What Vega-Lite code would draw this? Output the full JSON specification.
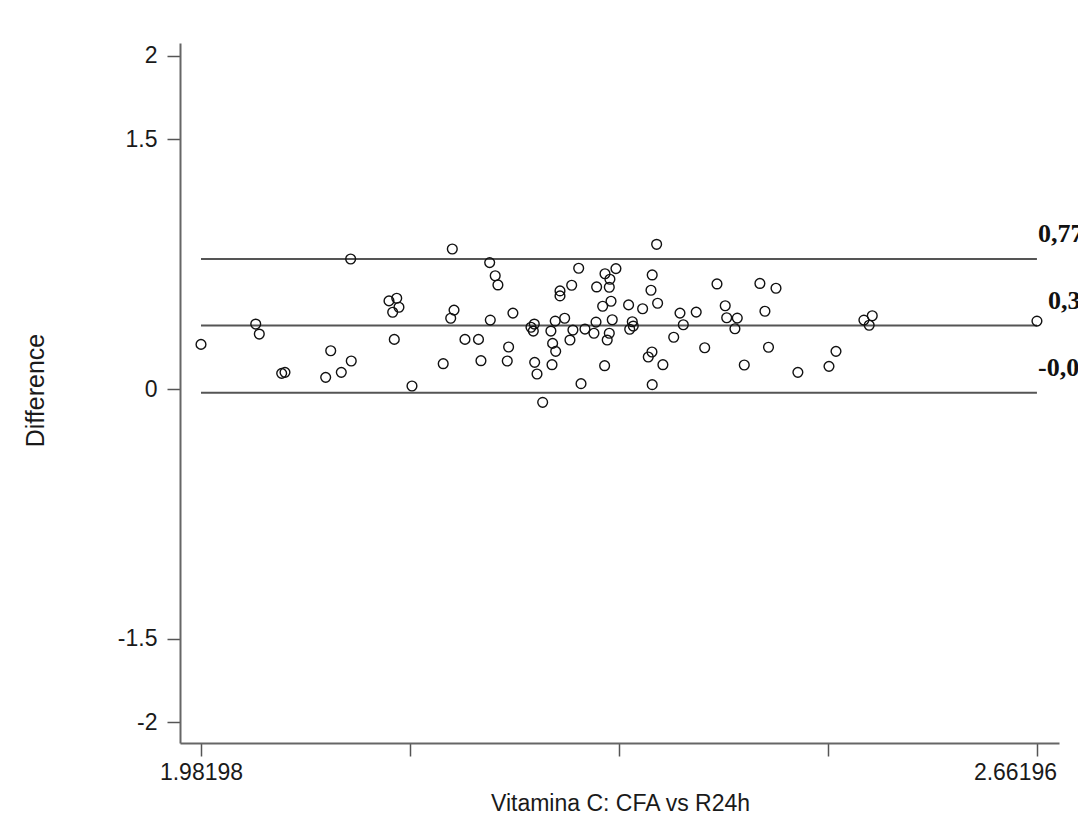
{
  "$schema": "https://vega.github.io/schema/vega-lite/v6.json",
  "width": 879,
  "height": 700,
  "autosize": {"type": "none"},
  "padding": {"left": 180, "top": 43, "right": 19, "bottom": 83},
  "background": "white",
  "config": {"view": {"stroke": null}},
  "datasets": {
    "points": [
      {"mean": 2.1037, "diff": 0.781}, {"mean": 2.1864, "diff": 0.841}, {"mean": 2.1349, "diff": 0.529},
      {"mean": 2.1412, "diff": 0.545}, {"mean": 2.1430, "diff": 0.491}, {"mean": 2.1379, "diff": 0.461},
      {"mean": 2.0265, "diff": 0.390}, {"mean": 2.0294, "diff": 0.330}, {"mean": 1.98198, "diff": 0.268},
      {"mean": 2.1392, "diff": 0.298}, {"mean": 2.1878, "diff": 0.474}, {"mean": 2.1851, "diff": 0.425},
      {"mean": 2.1967, "diff": 0.298}, {"mean": 2.2077, "diff": 0.298}, {"mean": 2.0875, "diff": 0.230},
      {"mean": 2.0476, "diff": 0.094}, {"mean": 2.0503, "diff": 0.100}, {"mean": 2.0834, "diff": 0.070},
      {"mean": 2.0961, "diff": 0.100}, {"mean": 2.1042, "diff": 0.168}, {"mean": 2.1790, "diff": 0.152},
      {"mean": 2.1536, "diff": 0.018}, {"mean": 2.2097, "diff": 0.170},
      {"mean": 2.3526, "diff": 0.869}, {"mean": 2.2168, "diff": 0.759}, {"mean": 2.2213, "diff": 0.680},
      {"mean": 2.2235, "diff": 0.625}, {"mean": 2.2892, "diff": 0.725}, {"mean": 2.3106, "diff": 0.692},
      {"mean": 2.3195, "diff": 0.723}, {"mean": 2.3146, "diff": 0.659}, {"mean": 2.3141, "diff": 0.611},
      {"mean": 2.3038, "diff": 0.613}, {"mean": 2.2835, "diff": 0.623}, {"mean": 2.2740, "diff": 0.589},
      {"mean": 2.2740, "diff": 0.559}, {"mean": 2.3490, "diff": 0.685}, {"mean": 2.3480, "diff": 0.593},
      {"mean": 2.3534, "diff": 0.515}, {"mean": 2.4017, "diff": 0.631}, {"mean": 2.4366, "diff": 0.634},
      {"mean": 2.4407, "diff": 0.467}, {"mean": 2.2357, "diff": 0.456}, {"mean": 2.2173, "diff": 0.414},
      {"mean": 2.3155, "diff": 0.527}, {"mean": 2.3087, "diff": 0.497}, {"mean": 2.3298, "diff": 0.505},
      {"mean": 2.3412, "diff": 0.482}, {"mean": 2.3716, "diff": 0.456}, {"mean": 2.3848, "diff": 0.462},
      {"mean": 2.4084, "diff": 0.500}, {"mean": 2.4096, "diff": 0.428}, {"mean": 2.4182, "diff": 0.426},
      {"mean": 2.4163, "diff": 0.362}, {"mean": 2.3743, "diff": 0.386}, {"mean": 2.3665, "diff": 0.311},
      {"mean": 2.2504, "diff": 0.371}, {"mean": 2.2531, "diff": 0.390}, {"mean": 2.2523, "diff": 0.348},
      {"mean": 2.2701, "diff": 0.408}, {"mean": 2.2778, "diff": 0.425}, {"mean": 2.2666, "diff": 0.348},
      {"mean": 2.2845, "diff": 0.354}, {"mean": 2.2821, "diff": 0.294}, {"mean": 2.2943, "diff": 0.360},
      {"mean": 2.3033, "diff": 0.402}, {"mean": 2.3016, "diff": 0.335}, {"mean": 2.3165, "diff": 0.416},
      {"mean": 2.3141, "diff": 0.335}, {"mean": 2.3124, "diff": 0.294}, {"mean": 2.3328, "diff": 0.404},
      {"mean": 2.3336, "diff": 0.378}, {"mean": 2.3307, "diff": 0.359}, {"mean": 2.2680, "diff": 0.274},
      {"mean": 2.2705, "diff": 0.226}, {"mean": 2.2322, "diff": 0.252}, {"mean": 2.2311, "diff": 0.168},
      {"mean": 2.2534, "diff": 0.160}, {"mean": 2.2553, "diff": 0.090}, {"mean": 2.2675, "diff": 0.146},
      {"mean": 2.3103, "diff": 0.140}, {"mean": 2.3458, "diff": 0.192}, {"mean": 2.3488, "diff": 0.222},
      {"mean": 2.3577, "diff": 0.146}, {"mean": 2.3917, "diff": 0.248}, {"mean": 2.4239, "diff": 0.144},
      {"mean": 2.4436, "diff": 0.251}, {"mean": 2.2911, "diff": 0.032}, {"mean": 2.3490, "diff": 0.026},
      {"mean": 2.2599, "diff": -0.080},
      {"mean": 2.4497, "diff": 0.605}, {"mean": 2.5212, "diff": 0.414}, {"mean": 2.5280, "diff": 0.440},
      {"mean": 2.5255, "diff": 0.383}, {"mean": 2.66196, "diff": 0.408}, {"mean": 2.4985, "diff": 0.226},
      {"mean": 2.4928, "diff": 0.136}, {"mean": 2.4675, "diff": 0.100}
    ],
    "lines": [
      {"value": 0.781, "label": "0,779", "start": 1.98198, "end": 2.66196, "lx": 2.6628},
      {"value": 0.381, "label": "0,380", "start": 1.98198, "end": 2.66196, "lx": 2.6709},
      {"value": -0.022, "label": "-0,021", "start": 1.98198, "end": 2.66196, "lx": 2.6628}
    ]
  },
  "layer": [
    {
      "data": {"name": "lines"},
      "mark": {"type": "rule", "color": "#555555", "strokeWidth": 2},
      "encoding": {
        "x": {"field": "start", "type": "quantitative"},
        "x2": {"field": "end"},
        "y": {"field": "value", "type": "quantitative"}
      }
    },
    {
      "data": {"name": "lines"},
      "mark": {"type": "text", "font": "Liberation Serif", "fontWeight": "bold", "fontSize": 26, "align": "left", "baseline": "alphabetic", "dy": -17, "color": "#111111", "clip": false},
      "encoding": {
        "x": {"field": "lx", "type": "quantitative"},
        "y": {"field": "value", "type": "quantitative"},
        "text": {"field": "label"}
      }
    },
    {
      "data": {"name": "points"},
      "mark": {"type": "point", "shape": "circle", "filled": false, "stroke": "#111111", "strokeWidth": 1.4, "size": 95, "opacity": 1},
      "encoding": {
        "x": {
          "field": "mean", "type": "quantitative",
          "scale": {"domain": [1.9649, 2.6799], "nice": false, "zero": false},
          "axis": {
            "title": "Vitamina C: CFA vs R24h",
            "values": [1.98198, 2.151975, 2.32197, 2.491965, 2.66196],
            "labelExpr": "datum.value < 2 ? '1.98198' : (datum.value > 2.6 ? '2.66196' : '')",
            "grid": false,
            "domainColor": "#666666", "domainWidth": 2,
            "tickColor": "#555555", "tickWidth": 1.5, "tickSize": 13,
            "labelFont": "Liberation Sans", "labelFontSize": 23, "labelColor": "#1a1a1a",
            "labelPadding": 5, "labelFlush": false, "labelOverlap": false,
            "labelOffset": {"condition": {"test": "datum.value > 2.6", "value": -22}, "value": 0},
            "titleFont": "Liberation Sans", "titleFontSize": 23, "titleFontWeight": "normal", "titleColor": "#1a1a1a",
            "titleX": 440, "titleY": 67, "titleBaseline": "alphabetic", "titleAlign": "center"
          }
        },
        "y": {
          "field": "diff", "type": "quantitative",
          "scale": {"domain": [-2.126, 2.078], "nice": false, "zero": false},
          "axis": {
            "title": "Difference",
            "values": [-2, -1.5, 0, 1.5, 2],
            "labelExpr": "datum.value == 2 ? '2' : (datum.value == 1.5 ? '1.5' : (datum.value == 0 ? '0' : (datum.value == -1.5 ? '-1.5' : '-2')))",
            "grid": false,
            "domainColor": "#666666", "domainWidth": 2,
            "tickColor": "#555555", "tickWidth": 1.5, "tickSize": 13,
            "labelFont": "Liberation Sans", "labelFontSize": 23, "labelColor": "#1a1a1a",
            "labelPadding": 10, "labelFlush": false, "labelOverlap": false,
            "titleFont": "Liberation Sans", "titleFontSize": 25, "titleFontWeight": "normal", "titleColor": "#1a1a1a",
            "titleX": -145, "titleY": 347, "titleAngle": 270, "titleBaseline": "middle", "titleAlign": "center"
          }
        }
      }
    }
  ]
}
